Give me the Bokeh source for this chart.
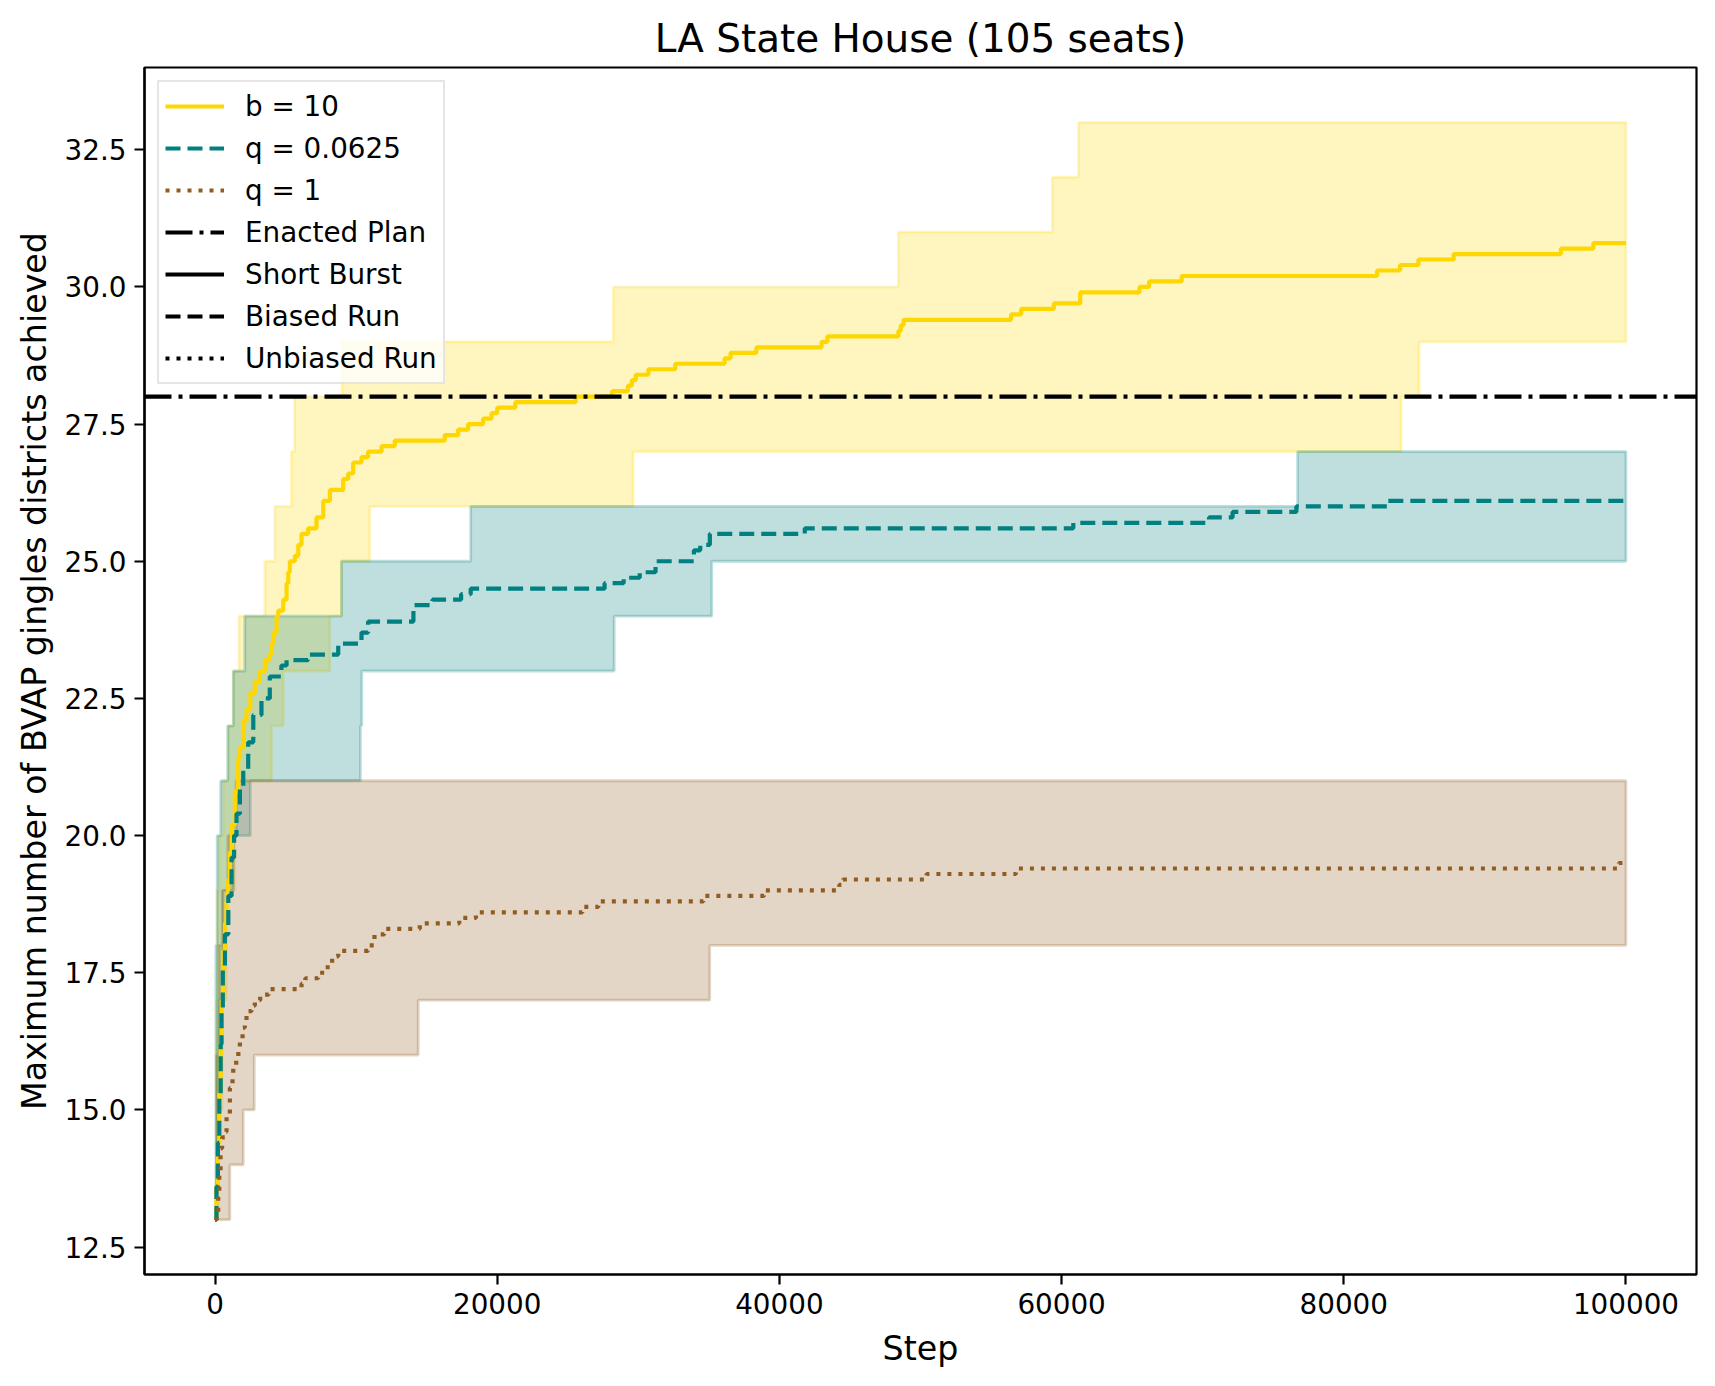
from bokeh.plotting import figure
from bokeh.models import Range1d, FixedTicker, PrintfTickFormatter, Legend, LegendItem
from bokeh.embed import file_html
from bokeh.resources import INLINE

# ---------------- data ----------------
title = "LA State House (105 seats)"
x_label = "Step"
y_label = "Maximum number of BVAP gingles districts achieved"
x_ticks = [0, 20000, 40000, 60000, 80000, 100000]
y_ticks = [12.5, 15.0, 17.5, 20.0, 22.5, 25.0, 27.5, 30.0, 32.5]
x_limits = (-5000, 105000)
y_limits = (12, 34)
enacted_value = 28

# b = 10 (short burst) mean
b10_x = [0, 100, 200, 300, 400, 480, 580, 700, 815, 930, 1050, 1200, 1400, 1640, 1760,
         2000, 2230, 2500, 2820, 3180, 3530, 3880, 4000, 4120, 4360, 4480, 4830, 5070,
         5190, 5300, 5660, 5900, 6130, 6600, 7190, 7670, 8140, 9080, 9440, 9790, 10380,
         10850, 11800, 12740, 16280, 17230, 17940, 19000, 19600, 20000, 21280, 25560,
         28140, 29260, 29540, 29820, 30710, 32620, 36120, 36540, 38370, 42990, 43400,
         48440, 48600, 48800, 56420, 57130, 59450, 61320, 65520, 66200, 68510, 82360,
         83990, 85290, 87790, 95390, 97690, 100000]
b10_y = [13.0, 13.6, 14.4, 15.3, 16.2, 17.0, 17.9, 18.4, 18.8, 19.2, 19.7, 20.2, 20.8, 21.4, 21.6,
         22.1, 22.3, 22.6, 22.8, 23.0, 23.2, 23.3, 23.5, 23.7, 24.0, 24.1, 24.3, 24.6,
         24.8, 25.0, 25.1, 25.3, 25.5, 25.6, 25.8, 26.1, 26.3, 26.5, 26.6, 26.8, 26.9,
         27.0, 27.1, 27.2, 27.3, 27.4, 27.5, 27.6, 27.7, 27.8, 27.9, 28.0,
         28.1, 28.2, 28.3, 28.4, 28.5, 28.6, 28.7, 28.8, 28.9, 29.0, 29.1,
         29.2, 29.3, 29.4, 29.5, 29.6, 29.7, 29.9, 30.0, 30.1, 30.2, 30.3,
         30.4, 30.5, 30.6, 30.7, 30.8, 30.8]
b10_up_x = [0, 80, 150, 300, 580, 930, 1280, 1690, 3530, 4240, 5420, 5640, 9000,
            28230, 48440, 59350, 61200, 100000]
b10_up_y = [13, 17, 19, 20, 21, 22, 23, 24, 25, 26, 27, 28, 29, 30, 31, 32, 33, 33]
b10_lo_x = [0, 200, 500, 800, 1400, 4000, 4830, 8140, 8960, 10970, 29630, 84060, 85340, 100000]
b10_lo_y = [13, 15, 17, 19, 21, 22, 23, 24, 25, 26, 27, 28, 29, 29]

# q = 0.0625 (biased run) mean
q0625_x = [0, 100, 200, 300, 400, 460, 550, 700, 940, 1170, 1350, 1520, 1760, 2000, 2350,
           2710, 3290, 3880, 4700, 5070, 6600, 8730, 10380, 10850, 14060, 15410, 17440,
           18120, 27610, 28960, 30100, 31220, 33940, 34390, 35070, 41800, 60830, 70450,
           72120, 76640, 83100, 100000]
q0625_y = [13.0, 13.6, 14.4, 15.3, 16.2, 16.8, 17.6, 18.2, 18.9, 19.6, 20.0, 20.4, 20.9, 21.2, 21.7,
           22.2, 22.5, 22.9, 23.1, 23.2, 23.3, 23.5, 23.7, 23.9, 24.2, 24.3, 24.4,
           24.5, 24.6, 24.7, 24.8, 25.0, 25.2, 25.3, 25.5, 25.6, 25.7, 25.8,
           25.9, 26.0, 26.1, 26.1]
q0625_up_x = [0, 60, 150, 400, 900, 1300, 2110, 8960, 18120, 76730, 100000]
q0625_up_y = [13, 18, 20, 21, 22, 23, 24, 25, 26, 27, 27]
q0625_lo_x = [0, 150, 300, 580, 1300, 2500, 10300, 10400, 28290, 35200, 100000]
q0625_lo_y = [13, 15, 17, 19, 20, 21, 22, 23, 24, 25, 25]

# q = 1 (unbiased run) mean
q1_x = [0, 100, 225, 300, 390, 500, 700, 815, 1050, 1240, 1290, 1500, 1650, 1760, 1950,
        2110, 2230, 2590, 2820, 3200, 3800, 6130, 6400, 7310, 7780, 8300, 8730, 10850,
        11300, 12000, 14510, 17310, 18490, 26030, 27160, 34610, 38910, 44240, 44500,
        50430, 56760, 99500, 100000]
q1_y = [13.0, 13.1, 13.5, 13.9, 14.3, 14.5, 14.6, 14.9, 15.4, 15.6, 15.8, 15.9, 16.1, 16.3, 16.5,
        16.6, 16.8, 16.9, 17.0, 17.1, 17.2, 17.3, 17.4, 17.5, 17.6, 17.8, 17.9, 18.0,
        18.2, 18.3, 18.4, 18.5, 18.6, 18.7, 18.8, 18.9, 19.0, 19.1, 19.2,
        19.3, 19.4, 19.5, 19.5]
q1_up_x = [0, 100, 250, 500, 900, 1500, 100000]
q1_up_y = [13, 16, 18, 19, 20, 21, 21]
q1_lo_x = [0, 1050, 2000, 2780, 14400, 35060, 100000]
q1_lo_y = [13, 14, 15, 16, 17, 18, 18]

series_labels = ["b = 10", "q = 0.0625", "q = 1"]
series_colors = ["#FFD700", "#008080", "#915C20"]
style_labels = ["Enacted Plan", "Short Burst", "Biased Run", "Unbiased Run"]

# ---------------- helpers ----------------
def step_path(xs, ys):
    px, py = [], []
    for i in range(len(xs)):
        if i > 0:
            px.append(xs[i])
            py.append(ys[i - 1])
        px.append(xs[i])
        py.append(ys[i])
    return px, py


def band(xu, yu, xl, yl):
    ux, uy = step_path(xu, yu)
    lx, ly = step_path(xl, yl)
    return ux + lx[::-1], uy + ly[::-1]


FONT = "DejaVu Sans"
LW = 4.2
DASHED = "15 7"
DOTTED = "4 7"
DASHDOT = "27 7 4 7"

p = figure(width=1704, height=1370,
           x_range=Range1d(*x_limits), y_range=Range1d(*y_limits),
           output_backend="svg", toolbar_location=None,
           min_border_left=144, min_border_right=8,
           min_border_top=67, min_border_bottom=94)

p.title.text = title
p.title.align = "center"
p.title.text_font = FONT
p.title.text_font_size = "38.9px"
p.title.text_font_style = "normal"
p.title.text_color = "black"
p.title.standoff = 14

p.xgrid.visible = False
p.ygrid.visible = False
p.outline_line_color = "black"
p.outline_line_width = 2.2
p.outline_line_alpha = 1.0

p.xaxis.ticker = FixedTicker(ticks=x_ticks)
p.xaxis.formatter = PrintfTickFormatter(format="%d")
p.yaxis.ticker = FixedTicker(ticks=y_ticks)
p.yaxis.formatter = PrintfTickFormatter(format="%.1f")
p.xaxis.axis_label = x_label
p.yaxis.axis_label = y_label
for ax in (p.xaxis, p.yaxis):
    ax.axis_label_text_font = FONT
    ax.axis_label_text_font_size = "33.3px"
    ax.axis_label_text_font_style = "normal"
    ax.axis_label_text_color = "black"
    ax.major_label_text_font = FONT
    ax.major_label_text_font_size = "27.8px"
    ax.major_label_text_color = "black"
    ax.axis_line_width = 2.2
    ax.axis_line_color = "black"
    ax.major_tick_line_width = 2.2
    ax.major_tick_line_color = "black"
    ax.major_tick_out = 10
    ax.major_tick_in = 0
    ax.minor_tick_out = 0
    ax.minor_tick_in = 0
    ax.major_label_standoff = 8
p.xaxis.axis_label_standoff = 12
p.yaxis.axis_label_standoff = 8

bands = [(b10_up_x, b10_up_y, b10_lo_x, b10_lo_y),
         (q0625_up_x, q0625_up_y, q0625_lo_x, q0625_lo_y),
         (q1_up_x, q1_up_y, q1_lo_x, q1_lo_y)]
for (xu, yu, xl, yl), c in zip(bands, series_colors):
    bx, by = band(xu, yu, xl, yl)
    p.patch(bx, by, fill_color=c, fill_alpha=0.25, line_color=c, line_alpha=0.25, line_width=2.8)

r_b10 = p.step(b10_x, b10_y, mode="after", line_color=series_colors[0], line_width=LW)
r_q0625 = p.step(q0625_x, q0625_y, mode="after", line_color=series_colors[1], line_width=LW,
                 line_dash=DASHED)
r_q1 = p.step(q1_x, q1_y, mode="after", line_color=series_colors[2], line_width=LW,
              line_dash=DOTTED)

r_enacted = p.line([x_limits[0], x_limits[1]], [enacted_value, enacted_value],
                   line_color="black", line_width=LW, line_dash=DASHDOT)
# legend-only style samples (a single point draws no visible line)
r_sb = p.line([x_limits[0]], [enacted_value], line_color="black", line_width=LW)
r_br = p.line([x_limits[0]], [enacted_value], line_color="black", line_width=LW, line_dash=DASHED)
r_ur = p.line([x_limits[0]], [enacted_value], line_color="black", line_width=LW, line_dash=DOTTED)

items = [LegendItem(label=series_labels[0], renderers=[r_b10]),
         LegendItem(label=series_labels[1], renderers=[r_q0625]),
         LegendItem(label=series_labels[2], renderers=[r_q1]),
         LegendItem(label=style_labels[0], renderers=[r_enacted]),
         LegendItem(label=style_labels[1], renderers=[r_sb]),
         LegendItem(label=style_labels[2], renderers=[r_br]),
         LegendItem(label=style_labels[3], renderers=[r_ur])]
legend = Legend(items=items, location="top_left")
legend.margin = 13
legend.padding = 6
legend.spacing = 6
legend.glyph_width = 59
legend.glyph_height = 36
legend.label_height = 36
legend.label_standoff = 21
legend.label_text_font = FONT
legend.label_text_font_size = "27.8px"
legend.label_text_color = "black"
legend.border_line_color = "#cccccc"
legend.border_line_width = 2.2
legend.background_fill_color = "white"
legend.background_fill_alpha = 0.8
p.add_layout(legend)

open("out.html", "w").write(file_html(p, INLINE))
